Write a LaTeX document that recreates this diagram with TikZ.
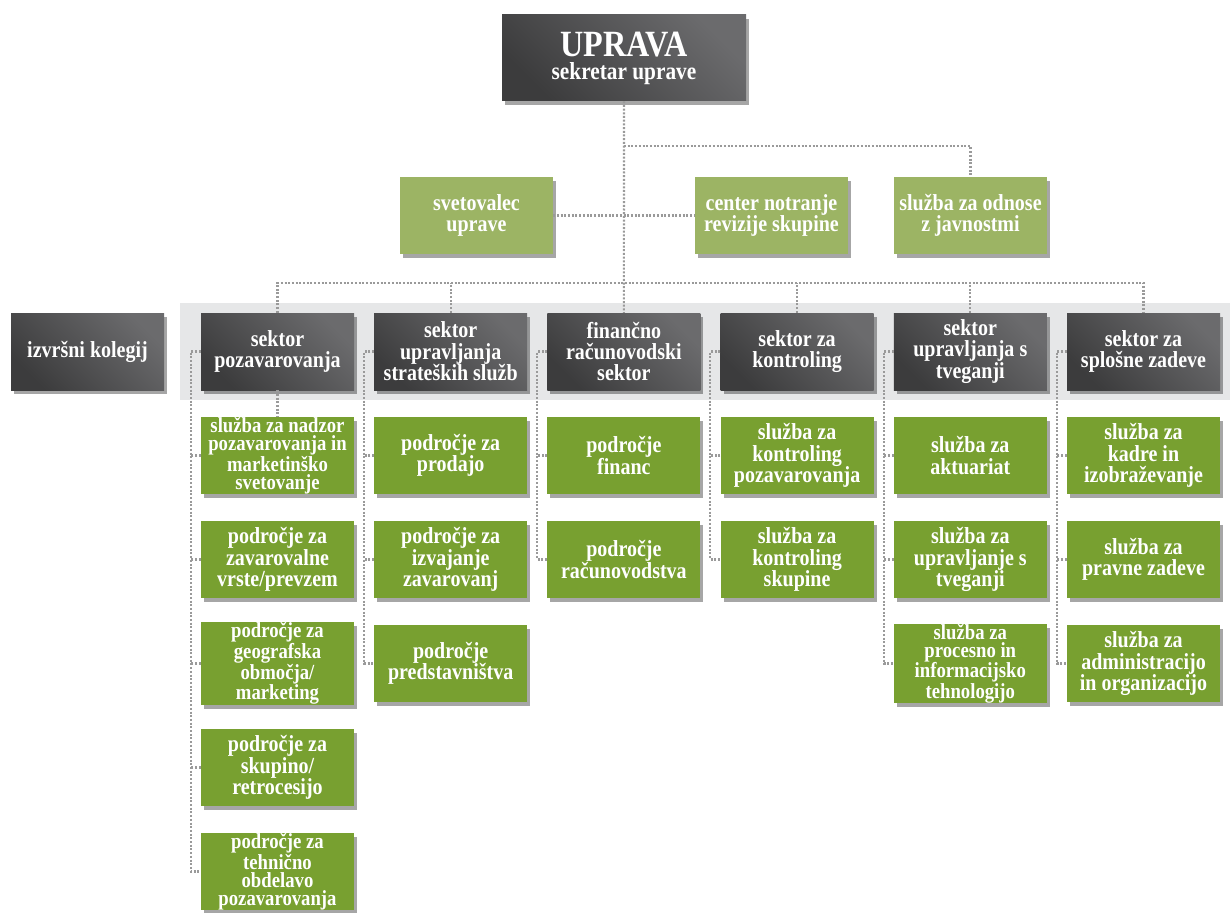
\documentclass[tikz,border=0pt]{standalone}
\usepackage{fontspec}
\setmainfont{Liberation Serif}[FakeStretch=0.87]
\usetikzlibrary{shadows}

\definecolor{temna}{HTML}{3C3C3D}
\definecolor{svetla}{HTML}{6B6B6D}
\definecolor{zelena}{HTML}{78A030}
\definecolor{bledozelena}{HTML}{9CB464}
\definecolor{pas}{HTML}{E6E7E8}
\definecolor{pike}{HTML}{9A9A9A}

\begin{document}
\begin{tikzpicture}[x=1pt, y=-1pt,
    okvir/.style={minimum width=153pt, minimum height=77pt, inner sep=0pt,
        align=center, text=white, font=\bfseries\fontsize{23}{21.5}\selectfont,
        drop shadow={shadow xshift=3pt, shadow yshift=-4pt, opacity=0.35, fill=black}},
    sektor/.style={okvir, top color=svetla, bottom color=temna, shading angle=-45},
    sluzba/.style={okvir, fill=zelena},
    svet/.style={okvir, fill=bledozelena},
    gosto/.style={font=\bfseries\fontsize{21.5}{18}\selectfont},
    veza/.style={draw=pike, line width=2.1pt, dash pattern=on 2pt off 1.7pt}]

    \useasboundingbox (0,0) rectangle (1230,912);
    % Pas za sektorje
    \fill[pas] (180,303) rectangle (1230,400);

    % Uprava
    \node[sektor, minimum width=244pt, minimum height=86pt, font=\bfseries\fontsize{24.5}{23}\selectfont]
        (uprava) at (624,58) {{\fontsize{37}{23}\selectfont UPRAVA}\\sekretar uprave};

    % Svetovalci
    \node[svet] (svetovalec) at (476.5,215.5) {svetovalec\\uprave};
    \node[svet] (revizija) at (771.5,215.5) {center notranje\\revizije skupine};
    \node[svet] (odnosi) at (970.5,215.5) {služba za odnose\\z javnostmi};

    % Sektorji
    \node[sektor] (kolegij) at (87.5,351.5) {izvršni kolegij};
    \node[sektor] (s1) at (277.5,351.5) {sektor\\pozavarovanja};
    \node[sektor] (s2) at (450.7,351.5) {sektor\\upravljanja\\strateških služb};
    \node[sektor] (s3) at (623.9,351.5) {finančno\\računovodski\\sektor};
    \node[sektor] (s4) at (797.1,351.5) {sektor za\\kontroling};
    \node[sektor] (s5) at (970.3,351.5) {sektor\\upravljanja s\\tveganji};
    \node[sektor] (s6) at (1143.5,351.5) {sektor za\\splošne zadeve};

    % Sektor pozavarovanja
    \node[sluzba, gosto] (p1) at (277.5,455.5) {služba za nadzor\\pozavarovanja in\\marketinško\\svetovanje};
    \node[sluzba] (p2) at (277.5,559.5) {področje za\\zavarovalne\\vrste/prevzem};
    \node[sluzba, gosto] (p3) at (277.5,663.5) {področje za\\geografska\\območja/\\marketing};
    \node[sluzba] (p4) at (277.5,767.5) {področje za\\skupino/\\retrocesijo};
    \node[sluzba, gosto] (p5) at (277.5,871.5) {področje za\\tehnično\\obdelavo\\pozavarovanja};

    % Sektor upravljanja strateskih sluzb
    \node[sluzba] (u1) at (450.7,455.5) {področje za\\prodajo};
    \node[sluzba] (u2) at (450.7,559.5) {področje za\\izvajanje\\zavarovanj};
    \node[sluzba] (u3) at (450.7,663.5) {področje\\predstavništva};

    % Financno racunovodski sektor
    \node[sluzba] (f1) at (623.9,455.5) {področje\\financ};
    \node[sluzba] (f2) at (623.9,559.5) {področje\\računovodstva};

    % Sektor za kontroling
    \node[sluzba] (k1) at (797.1,455.5) {služba za\\kontroling\\pozavarovanja};
    \node[sluzba] (k2) at (797.1,559.5) {služba za\\kontroling\\skupine};

    % Sektor upravljanja s tveganji
    \node[sluzba] (t1) at (970.3,455.5) {služba za\\aktuariat};
    \node[sluzba] (t2) at (970.3,559.5) {služba za\\upravljanje s\\tveganji};
    \node[sluzba, gosto] (t3) at (970.3,663.5) {služba za\\procesno in\\informacijsko\\tehnologijo};

    % Sektor za splosne zadeve
    \node[sluzba] (z1) at (1143.5,455.5) {služba za\\kadre in\\izobraževanje};
    \node[sluzba] (z2) at (1143.5,559.5) {služba za\\pravne zadeve};
    \node[sluzba] (z3) at (1143.5,663.5) {služba za\\administracijo\\in organizacijo};

    % Povezave uprave
    \draw[veza] (uprava.south) -- (s3.north);
    \draw[veza] (uprava.south) ++(0,45) -| (odnosi.north);
    \draw[veza] (svetovalec.east) -- (revizija.west);
    \draw[veza] (s1.north) -- ++(0,-30) -| (s6.north);
    \draw[veza] (s2.north) -- ++(0,-30);
    \draw[veza] (s4.north) -- ++(0,-30);
    \draw[veza] (s5.north) -- ++(0,-30);

    % Povezave znotraj sektorjev
    \draw[veza] (s1.south) -- (p1.north);
    \draw[veza] (s1.west) -- ++(-10,0) |- (p5.west);
    \draw[veza] (p1.west) -- ++(-10,0);
    \draw[veza] (p2.west) -- ++(-10,0);
    \draw[veza] (p3.west) -- ++(-10,0);
    \draw[veza] (p4.west) -- ++(-10,0);

    \draw[veza] (s2.west) -- ++(-10,0) |- (u3.west);
    \draw[veza] (u1.west) -- ++(-10,0);
    \draw[veza] (u2.west) -- ++(-10,0);

    \draw[veza] (s3.west) -- ++(-10,0) |- (f2.west);
    \draw[veza] (f1.west) -- ++(-10,0);

    \draw[veza] (s4.west) -- ++(-10,0) |- (k2.west);
    \draw[veza] (k1.west) -- ++(-10,0);

    \draw[veza] (s5.west) -- ++(-10,0) |- (t3.west);
    \draw[veza] (t1.west) -- ++(-10,0);
    \draw[veza] (t2.west) -- ++(-10,0);

    \draw[veza] (s6.west) -- ++(-10,0) |- (z3.west);
    \draw[veza] (z1.west) -- ++(-10,0);
    \draw[veza] (z2.west) -- ++(-10,0);
\end{tikzpicture}
\end{document}
